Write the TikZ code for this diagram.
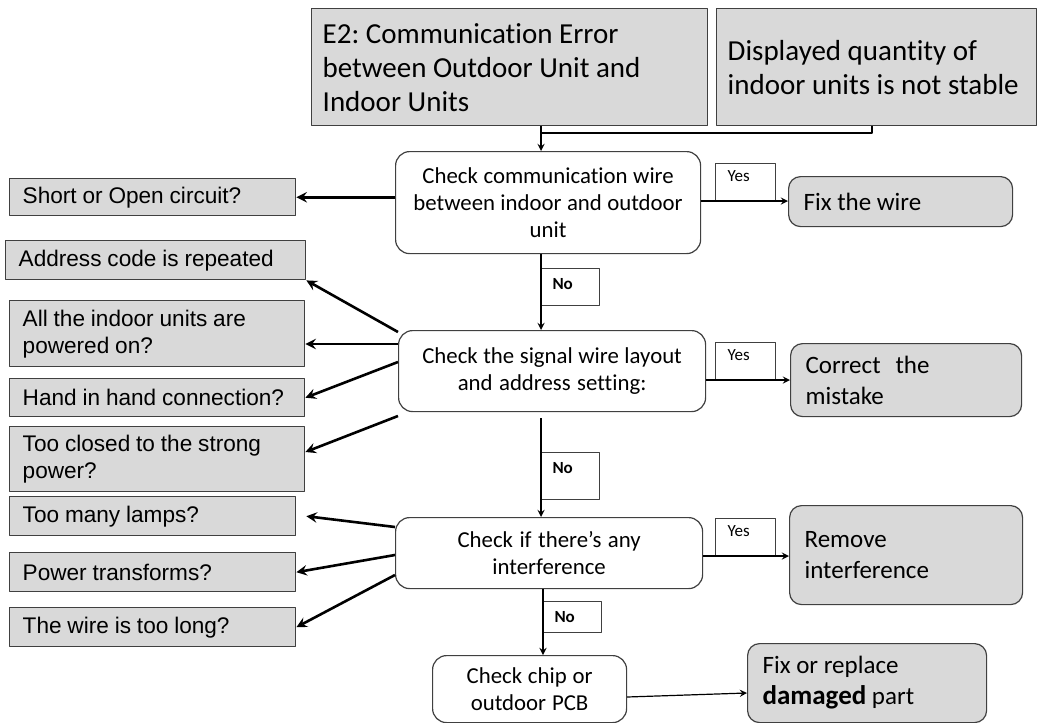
\documentclass[tikz,border=0pt]{standalone}
\usepackage{fontspec}
\setmainfont{Carlito}[Ligatures=NoCommon]
\newfontfamily\arialfont{Liberation Sans}
\definecolor{boxgray}{HTML}{D9D9D9}
\definecolor{edgegray}{HTML}{404040}
\frenchspacing
\hyphenpenalty=10000
\newcommand\tightsp{\spaceskip=0.226em plus 0.05em\relax}
\newcommand\arialsp{\spaceskip=0.26em plus 0.05em\relax}

\begin{document}
\begin{tikzpicture}[x=0.5pt,y=-0.5pt,>=stealth,line join=round,
  every node/.style={anchor=north west,inner sep=0pt,text=black},
  topbox/.style={draw=edgegray,fill=boxgray,line width=0.7pt,align=left,inner xsep=5.5pt,minimum height=58.5pt,font=\fontsize{14.5}{17}\selectfont,execute at begin node=\tightsp},
  checkbox/.style={draw=edgegray,rounded corners=7pt,line width=0.6pt,align=center,inner xsep=4pt,font=\fontsize{11.4}{13.5}\selectfont,execute at begin node=\tightsp},
  fixbox/.style={draw=edgegray,fill=boxgray,rounded corners=6pt,line width=0.6pt,align=left,inner xsep=7.5pt,font=\fontsize{12.5}{15.5}\selectfont,execute at begin node=\tightsp},
  causebox/.style={draw=edgegray,fill=boxgray,line width=0.7pt,align=left,inner xsep=6.5pt,text width=#1,font=\arialfont\fontsize{11.3}{13.5}\selectfont,execute at begin node=\arialsp},
  yesbox/.style={draw=edgegray,line width=0.5pt,align=left,inner xsep=6pt,inner ysep=3pt,text width=18pt,text height=6pt,text depth=6.5pt,font=\fontsize{8.5}{10}\selectfont},
  nobox/.style={draw=edgegray,line width=0.5pt,align=left,inner xsep=5.5pt,inner ysep=3pt,text width=18pt,text height=7.5pt,text depth=#1,font=\bfseries\fontsize{8.5}{10}\selectfont},
  flowarrow/.style={->,line width=0.6pt},
  causearrow/.style={->,line width=1.3pt}]
  \useasboundingbox[fill=white] (0,0) rectangle (1041,723);
  % top: the two symptoms
  \node[topbox,text width=187pt] (err) at (311,8) {E2: Communication Error\\between Outdoor Unit and\\Indoor Units};
  \node[topbox,text width=149pt] (qty) at (716,8) {Displayed quantity of\\indoor units is not stable};
  % middle column: the checks
  \node[checkbox,text width=144.5pt,minimum height=51pt] (chk1) at (395,151) {Check communication wire\\between indoor and outdoor\\unit};
  \node[checkbox,text width=145.5pt,minimum height=40.5pt] (chk2) at (398,330) {Check the signal wire layout\\and address setting:};
  \node[checkbox,text width=145.5pt,minimum height=35.5pt] (chk3) at (395,517) {Check if there’s any\\interference};
  \node[checkbox,text width=89pt,minimum height=33.5pt] (chip) at (432,655) {Check chip or\\outdoor PCB};
  % yes / no tags
  \node[yesbox] (yes1) at (715,163) {Yes};
  \node[yesbox] (yes2) at (715,342) {Yes};
  \node[yesbox] (yes3) at (715,518) {Yes};
  \node[nobox=5pt] (no1) at (541,268) {No};
  \node[nobox=10pt] (no2) at (541,452) {No};
  \node[nobox=2pt] (no3) at (543,601) {No};
  % right column: the fixes
  \node[fixbox,text width=97pt,minimum height=25pt] (fixwire) at (788,176) {Fix the wire};
  \node[fixbox,text width=100.5pt,minimum height=36.5pt] (correct) at (790,343) {Correct\hspace{0.6em}the\\mistake};
  \node[fixbox,text width=101.5pt,minimum height=49.5pt] (remove) at (789,505) {Remove\\interference};
  \node[fixbox,text width=104.5pt,minimum height=39.5pt] (fixpart) at (747,643) {Fix or replace\\{\bfseries\fontsize{13.5}{15.5}\selectfont damaged} part};
  % left column: the causes
  \node[causebox=130pt,minimum height=18.5pt] (short) at (9,178) {Short or Open circuit?};
  \node[causebox=137pt,minimum height=19.5pt] (addr) at (5,240) {Address code is repeated};
  \node[causebox=134.5pt,minimum height=33pt] (allon) at (9,300) {All the indoor units are\\powered on?};
  \node[causebox=134.5pt,minimum height=19pt] (hand) at (9,378) {Hand in hand connection?};
  \node[causebox=134.5pt,minimum height=32.5pt] (close) at (9,426) {Too closed to the strong\\power?};
  \node[causebox=130pt,minimum height=19.5pt] (lamps) at (9,496) {Too many lamps?};
  \node[causebox=130pt,minimum height=19.5pt] (transf) at (9,552) {Power transforms?};
  \node[causebox=130pt,minimum height=19.5pt] (long) at (9,607) {The wire is too long?};
  % connectors
  \coordinate (join) at (541,133);
  \draw[flowarrow] (err.south -| join) -- (chk1.north -| join);
  \draw[line width=0.6pt] (qty.south -| 872,0) |- (join);
  \draw[flowarrow] (chk1.south -| no1.west) -- (chk2.north -| no1.west);
  \draw[flowarrow] ([yshift=-3pt]chk2.south -| no2.west) -- (chk3.north -| no2.west);
  \draw[flowarrow] (chk3.south -| no3.west) -- (chip.north -| no3.west);
  \draw[flowarrow] (chk1.east |- yes1.south) -- (fixwire.west |- yes1.south);
  \draw[flowarrow] (chk2.east |- yes2.south) -- (correct.west |- yes2.south);
  \draw[flowarrow] (chk3.east |- yes3.south) -- (remove.west |- yes3.south);
  \draw[flowarrow] (chip.east |- 0,697) -- (fixpart.west |- 0,693);
  \draw[causearrow] (chk1.west |- short.east) -- (short.east);
  \draw[causearrow] (chk2.west |- 0,332) -- (addr.south east);
  \draw[causearrow] (chk2.west |- 0,344) -- (allon.east |- 0,344);
  \draw[causearrow] (chk2.west |- 0,362) -- (hand.east);
  \draw[causearrow] (chk2.west |- 0,416) -- (close.east |- 0,452);
  \draw[causearrow] (chk3.west |- 0,527) -- ([xshift=5pt]lamps.east);
  \draw[causearrow] (chk3.west |- 0,555) -- (transf.east);
  \draw[causearrow] (chk3.west |- 0,575) -- (long.east);
\end{tikzpicture}
\end{document}
